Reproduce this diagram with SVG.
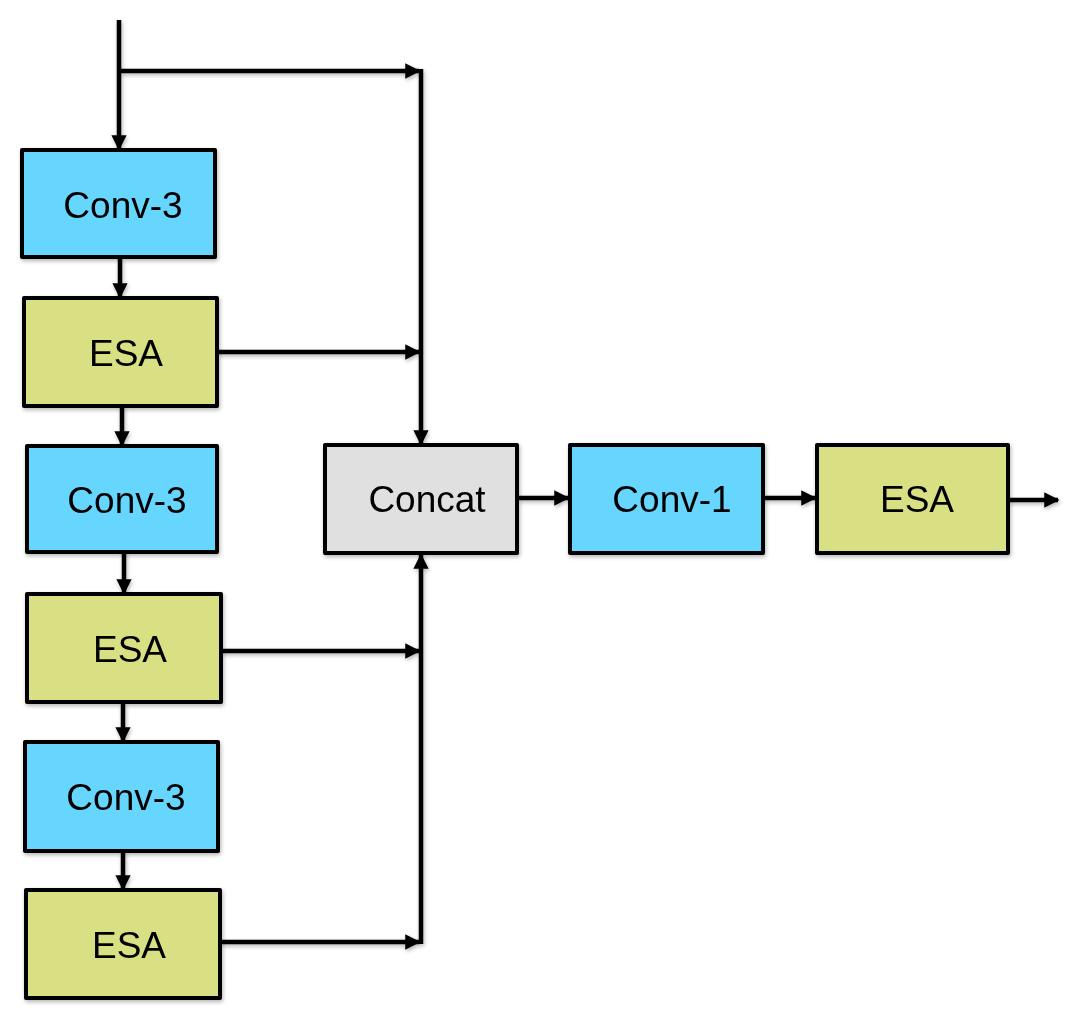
<svg xmlns="http://www.w3.org/2000/svg" width="1076" height="1019" viewBox="0 0 1076 1019">
<defs>
<marker id="ah" viewBox="0 0 10 10" refX="9" refY="5" markerWidth="3.4" markerHeight="3.9" markerUnits="strokeWidth" orient="auto">
<path d="M0,0 L10,5 L0,10 Z" fill="#000"/>
</marker>
<filter id="sh" x="-10%" y="-10%" width="130%" height="130%">
<feGaussianBlur in="SourceAlpha" stdDeviation="2"/>
<feOffset dx="1" dy="2"/>
<feComponentTransfer><feFuncA type="linear" slope="0.3"/></feComponentTransfer>
<feMerge><feMergeNode/><feMergeNode in="SourceGraphic"/></feMerge>
</filter>
<style>
.box{stroke:#000;stroke-width:4;stroke-linejoin:round}
.conv{fill:#66d6ff}
.esa{fill:#d9e083}
.cat{fill:#e0e0e0}
.lbl{font-family:"Liberation Sans",Arial,sans-serif;font-size:37px;fill:#000;text-anchor:middle}
.ln{stroke:#000;stroke-width:4.5;fill:none}
.ar{stroke:#000;stroke-width:4.5;fill:none;marker-end:url(#ah)}
</style>
</defs>
<rect width="1076" height="1019" fill="#fff"/>
<g id="connectors" filter="url(#sh)">
<path class="ar" d="M119,20 L119,149"/>
<path class="ar" d="M119,71 L419,71"/>
<path class="ln" d="M421,69 L421,420"/>
<path class="ar" d="M421,420 L421,444"/>
<path class="ar" d="M120,258 L120,297"/>
<path class="ar" d="M217,352 L419,352"/>
<path class="ar" d="M122,406 L122,445"/>
<path class="ar" d="M124,552 L124,593"/>
<path class="ar" d="M221,651 L419,651"/>
<path class="ar" d="M123,703 L123,741"/>
<path class="ar" d="M123,851 L123,889"/>
<path class="ar" d="M220,942 L419,942"/>
<path class="ln" d="M421,944 L421,580"/>
<path class="ar" d="M421,580 L421,555"/>
<path class="ar" d="M518,498 L568,498"/>
<path class="ar" d="M763,498 L815,498"/>
<path class="ar" d="M1008,500 L1058,500"/>
</g>
<g id="conv3a" filter="url(#sh)"><rect class="box conv" x="22" y="150" width="193" height="107"/><text class="lbl" x="123" y="218">Conv-3</text></g>
<g id="esa1" filter="url(#sh)"><rect class="box esa" x="24" y="298" width="193" height="108"/><text class="lbl" x="126" y="366">ESA</text></g>
<g id="conv3b" filter="url(#sh)"><rect class="box conv" x="27" y="446" width="190" height="106"/><text class="lbl" x="127" y="513">Conv-3</text></g>
<g id="esa2" filter="url(#sh)"><rect class="box esa" x="27" y="594" width="194" height="108"/><text class="lbl" x="130" y="662">ESA</text></g>
<g id="conv3c" filter="url(#sh)"><rect class="box conv" x="25" y="742" width="193" height="109"/><text class="lbl" x="126" y="810">Conv-3</text></g>
<g id="esa3" filter="url(#sh)"><rect class="box esa" x="26" y="890" width="194" height="108"/><text class="lbl" x="129" y="958">ESA</text></g>
<g id="concat" filter="url(#sh)"><rect class="box cat" x="325" y="445" width="192" height="108"/><text class="lbl" x="427" y="512">Concat</text></g>
<g id="conv1" filter="url(#sh)"><rect class="box conv" x="570" y="445" width="193" height="108"/><text class="lbl" x="672" y="512">Conv-1</text></g>
<g id="esa4" filter="url(#sh)"><rect class="box esa" x="817" y="445" width="191" height="108"/><text class="lbl" x="917" y="512">ESA</text></g>
</svg>
